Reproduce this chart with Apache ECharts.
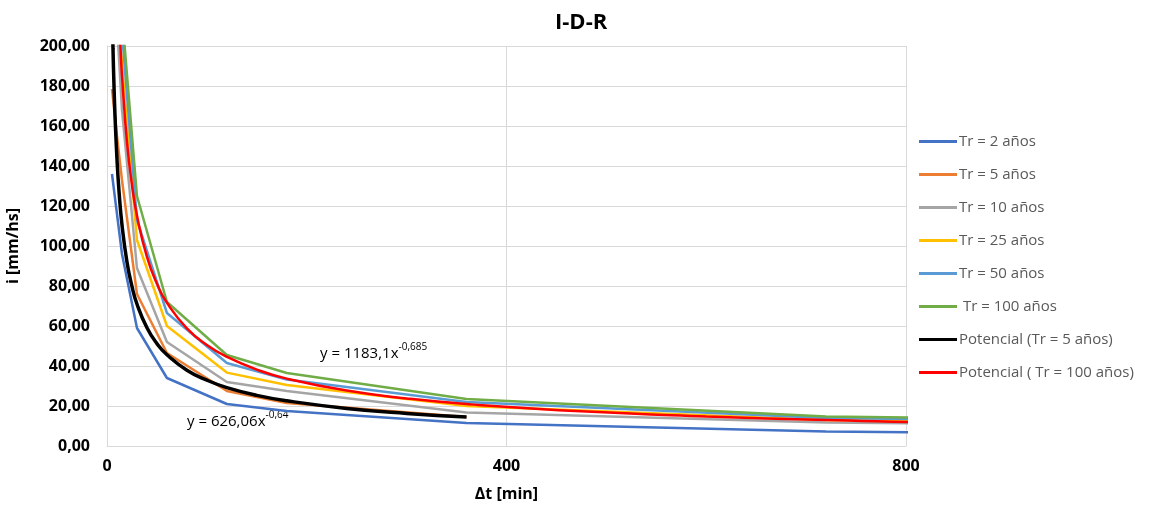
<!DOCTYPE html>
<html>
<head>
<meta charset="utf-8">
<title>I-D-R</title>
<script src="https://cdn.jsdelivr.net/npm/echarts@6/dist/echarts.min.js"></script>
<style>
  html, body { margin: 0; padding: 0; background: #fff; }
  #chart { width: 1152px; height: 512px; }
</style>
</head>
<body>
<div id="chart"></div>
<script>
// duraciones [min]
const durations = [5, 10, 15, 30, 60, 120, 180, 360, 720, 1440]
const durationsTr5 = [5, 10, 15, 30, 60, 120, 180, 360]

// intensidades [mm/hs]
const tr2 = [136, 116, 96, 59, 34, 21, 17.5, 11.5, 7.2, 4.5]
const tr5 = [178.5, 155, 133, 76, 46.5, 27.5, 21.5, 14.5]
const tr10 = [260, 211, 168, 89, 52, 32, 27.5, 16.8, 11.8, 8.2]
const tr25 = [290, 225, 192, 103, 60, 36.7, 30.5, 20, 13, 9]
const tr50 = [310, 245, 207, 113, 66.5, 41.5, 33.2, 22, 14, 10]
const tr100 = [330, 255, 216, 125, 72, 45.5, 36.5, 23.5, 14.7, 10.3]

// lineas de tendencia (potencial)
const trendX5 = [5, 6, 7, 8, 10, 12, 15, 20, 25, 30, 40, 50, 60, 80, 100, 120, 150, 180, 240, 300, 360]
const trendY5 = [223.5, 198.9, 180.2, 165.5, 143.4, 127.6, 110.6, 92.0, 79.8, 71.0, 59.1, 51.2, 45.6, 37.9, 32.9, 29.2, 25.3, 22.6, 18.8, 16.3, 14.5]
const trendX100 = [8, 10, 12, 14, 15, 20, 25, 30, 40, 50, 60, 80, 100, 120, 150, 180, 240, 300, 360, 480, 600, 720, 900, 1440]
const trendY100 = [284.7, 244.4, 215.7, 194.1, 185.1, 151.9, 130.5, 115.2, 94.5, 81.1, 71.6, 58.8, 50.5, 44.6, 38.2, 33.7, 27.7, 23.8, 21.0, 17.2, 14.8, 13.05, 11.2, 8.1]

const legendNames = ['Tr = 2 años', 'Tr = 5 años', 'Tr = 10 años', 'Tr = 25 años', 'Tr = 50 años', ' Tr = 100 años', 'Potencial (Tr = 5 años)', 'Potencial ( Tr = 100 años)']
const colors = ['#4472C4', '#ED7D31', '#A5A5A5', '#FFC000', '#5B9BD5', '#70AD47', '#000000', '#FF0000']

const pairs = (xs, ys) => ys.map((y, i) => [xs[i], y])

const chart = echarts.init(document.getElementById('chart'))

const seriesData = [
  pairs(durations, tr2),
  pairs(durationsTr5, tr5),
  pairs(durations, tr10),
  pairs(durations, tr25),
  pairs(durations, tr50),
  pairs(durations, tr100),
  pairs(trendX5, trendY5),
  pairs(trendX100, trendY100)
]

const series = seriesData.map((data, i) => ({
  name: legendNames[i],
  type: 'line',
  data: data,
  showSymbol: false,
  symbol: 'none',
  smooth: i >= 6,
  clip: true,
  z: i >= 6 ? 3 : 2,
  lineStyle: { color: colors[i], width: i === 6 ? 3.5 : 2.5 },
  itemStyle: { color: colors[i] }
}))

const fontFam = '"Open Sans", "Noto Sans", sans-serif'

const supStyle = {
  b: { fontSize: 15, color: '#595959', fontFamily: fontFam, verticalAlign: 'bottom' },
  s: { fontSize: 10, color: '#595959', fontFamily: fontFam, verticalAlign: 'top', padding: [0, 0, 9, 0] }
}

const option = {
  animation: false,
  title: {
    text: 'I-D-R',
    left: 550,
    top: 7,
    textStyle: { fontSize: 22, fontWeight: 'bold', color: '#000', fontFamily: fontFam }
  },
  legend: {
    orient: 'vertical',
    left: 914,
    top: 129,
    itemWidth: 38,
    itemHeight: 3,
    itemGap: 18,
    icon: 'rect',
    data: legendNames,
    textStyle: { fontSize: 15, color: '#595959', fontFamily: fontFam, padding: [0, 0, 0, -3] }
  },
  grid: {
    left: 107,
    right: 246,
    top: 46,
    bottom: 66,
    containLabel: false,
    outerBoundsMode: 'none'
  },
  xAxis: {
    type: 'value',
    min: 0,
    max: 800,
    interval: 400,
    name: 'Δt [min]',
    nameLocation: 'middle',
    nameGap: 40,
    nameTextStyle: { fontSize: 16, fontWeight: 'bold', color: '#000', fontFamily: fontFam },
    axisLine: { show: true, lineStyle: { color: '#d9d9d9' } },
    axisTick: { show: false },
    axisLabel: { fontSize: 16, fontWeight: 'bold', color: '#000', margin: 12, fontFamily: fontFam },
    splitLine: { show: true, lineStyle: { color: '#d9d9d9' } }
  },
  yAxis: {
    type: 'value',
    min: 0,
    max: 200,
    interval: 20,
    name: 'i [mm/hs]',
    nameLocation: 'middle',
    nameGap: 86,
    nameTextStyle: { fontSize: 16, fontWeight: 'bold', color: '#000', fontFamily: fontFam },
    axisLine: { show: true, lineStyle: { color: '#d9d9d9' } },
    axisTick: { show: false },
    axisLabel: {
      fontSize: 16,
      fontWeight: 'bold',
      color: '#000',
      margin: 17,
      fontFamily: fontFam,
      formatter: v => v.toFixed(2).replace('.', ',')
    },
    splitLine: { show: true, lineStyle: { color: '#d9d9d9' } }
  },
  graphic: [
    {
      type: 'text',
      left: 320,
      top: 342,
      style: { text: '{b|y = 1183,1x}{s|-0,685}', rich: supStyle }
    },
    {
      type: 'text',
      left: 187,
      top: 410,
      style: { text: '{b|y = 626,06x}{s|-0,64}', rich: supStyle }
    }
  ],
  series: series
}

chart.setOption(option)
</script>
</body>
</html>
